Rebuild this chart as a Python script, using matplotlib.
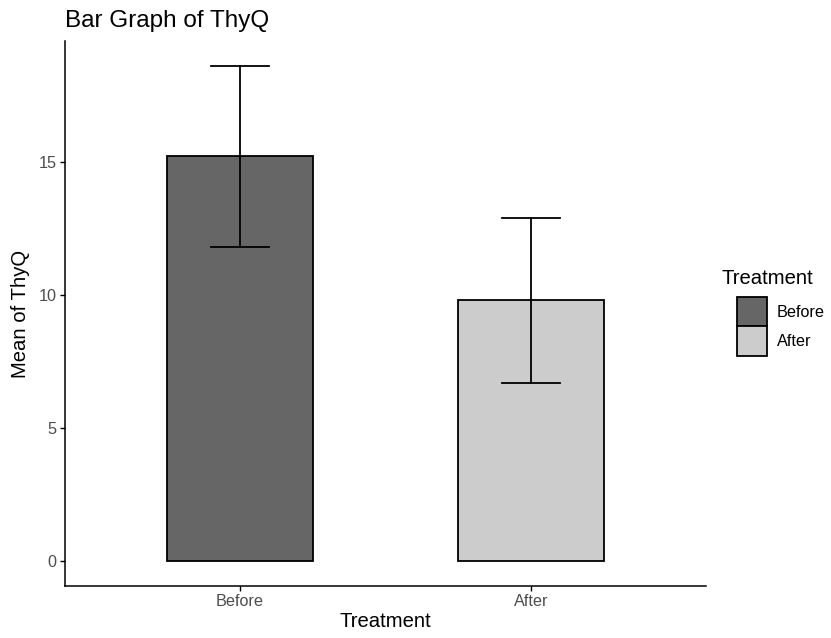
import matplotlib
matplotlib.use("Agg")
import matplotlib.pyplot as plt
from matplotlib.patches import Patch

plt.rcParams['font.family'] = ['Liberation Sans', 'DejaVu Sans']

treatments = ["Before", "After"]
means = [15.2, 9.8]
err_low = [11.8, 6.7]
err_high = [18.6, 12.9]
colors = ["#666666", "#CCCCCC"]

W, H = 831, 638
fig = plt.figure(figsize=(W/100, H/100), dpi=100)
ax = fig.add_axes([65/W, 1-586/H, (706-65)/W, (586-41)/H])

x = [1, 2]
ax.bar(x, means, width=0.5, color=colors, edgecolor="black", linewidth=1.3, zorder=2)
for xi, lo, hi in zip(x, err_low, err_high):
    ax.plot([xi, xi], [lo, hi], color="black", lw=1.3, zorder=3)
    ax.plot([xi-0.1, xi+0.1], [lo, lo], color="black", lw=1.3, zorder=3)
    ax.plot([xi-0.1, xi+0.1], [hi, hi], color="black", lw=1.3, zorder=3)

ax.set_xlim(0.4, 2.6)
ax.set_ylim(-0.93, 19.53)
ax.set_xticks(x)
ax.set_xticklabels(treatments)
ax.set_yticks([0, 5, 10, 15])
for s in ["top", "right"]:
    ax.spines[s].set_visible(False)
for s in ["left", "bottom"]:
    ax.spines[s].set_linewidth(1.1)
ax.tick_params(axis="both", labelcolor="#4D4D4D", labelsize=11.7, length=3.5, width=1.0,
               color="black", pad=2.5)

ax.set_xlabel("Treatment", fontsize=14.6, labelpad=2)
ax.set_ylabel("Mean of ThyQ", fontsize=14.6, labelpad=6)
ax.set_title("Bar Graph of ThyQ", fontsize=17.5, loc="left", x=0.0, pad=10)

# legend: title placed separately, keys indented beneath it
fig.text(721/W, 1-279/H, "Treatment", fontsize=14.6, ha="left", va="center")
handles = [Patch(facecolor=c, edgecolor="black", linewidth=1.3, label=t) for c, t in zip(colors, treatments)]
leg = fig.legend(handles=handles, loc="upper left",
                 bbox_to_anchor=(729/W, 1-289/H), frameon=False, borderpad=0,
                 fontsize=11.7, handlelength=1.85, handleheight=2.4,
                 handletextpad=0.6, labelspacing=0.0)

fig.savefig("out.png", dpi=100)
